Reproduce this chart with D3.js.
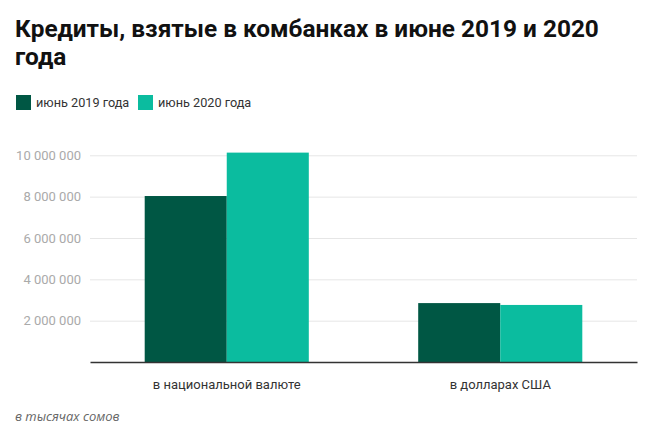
<!DOCTYPE html>
<html>
<head>
<meta charset="utf-8">
<script src="https://cdn.jsdelivr.net/npm/d3@7"></script>
<style>
  body { margin: 0; background: #fff; }
  svg { display: block; font-family: Roboto, "Noto Sans", sans-serif; }
</style>
</head>
<body>
<svg id="chart" width="653" height="431"></svg>
<script>
// data, in thousands of soms
var categories = ["в национальной валюте", "в долларах США"];
var seriesNames = ["июнь 2019 года", "июнь 2020 года"];
var values2019 = [8030000, 2850000];
var values2020 = [10130000, 2760000];
var yTicks = [2000000, 4000000, 6000000, 8000000, 10000000];
var colors = ["#005744", "#0bbc9f"];

var svg = d3.select("#chart");
var margin = {left: 90, right: 16, top: 155.3, bottom: 69};
var width = 653 - margin.left - margin.right,
    height = 431 - margin.top - margin.bottom;

// title
svg.append("text")
    .attr("x", 15).attr("y", 37)
    .style("font-size", "24.4px").style("font-weight", "bold").style("fill", "#111")
    .text("Кредиты, взятые в комбанках в июне 2019 и 2020");
svg.append("text")
    .attr("x", 15).attr("y", 65)
    .style("font-size", "24.4px").style("font-weight", "bold").style("fill", "#111")
    .text("года");

// legend
var legendX = [16, 138];
var legend = svg.selectAll(".legend")
    .data(seriesNames)
    .enter().append("g")
    .attr("class", "legend")
    .attr("transform", function(d, i) { return "translate(" + legendX[i] + ",95)"; });
legend.append("rect")
    .attr("width", 15).attr("height", 15)
    .attr("fill", function(d, i) { return colors[i]; });
legend.append("text")
    .attr("x", 20).attr("y", 12)
    .style("font-size", "12.7px").style("fill", "#333")
    .text(function(d) { return d; });

var g = svg.append("g")
    .attr("transform", "translate(" + margin.left + "," + margin.top + ")");

var x0 = d3.scaleBand()
    .domain(categories)
    .range([0, width])
    .paddingInner(0.4)
    .paddingOuter(0.2);

var x1 = d3.scaleBand()
    .domain(seriesNames)
    .range([0, x0.bandwidth()]);

var y = d3.scaleLinear()
    .domain([0, 10000000])
    .range([height, 0]);

var fmt = function(d) { return d3.format(",")(d).replace(/,/g, " "); };

// grid + y labels
var yAxis = g.append("g")
    .call(d3.axisLeft(y).tickValues(yTicks).tickSize(-width).tickPadding(8).tickFormat(fmt));
yAxis.select(".domain").remove();
yAxis.selectAll(".tick line").attr("stroke", "#e6e6e6");
yAxis.selectAll(".tick text")
    .attr("x", -9)
    .style("font-size", "13px").style("fill", "#aaa")
    .style("font-family", "Roboto, sans-serif");

// bars
var rows = categories.map(function(c, i) {
    return {cat: c, vals: [values2019[i], values2020[i]]};
});
var groups = g.selectAll(".group")
    .data(rows)
    .enter().append("g")
    .attr("transform", function(d) { return "translate(" + x0(d.cat) + ",0)"; });
groups.selectAll("rect")
    .data(function(d) { return d.vals.map(function(v, i) { return {name: seriesNames[i], v: v, i: i}; }); })
    .enter().append("rect")
    .attr("x", function(d) { return x1(d.name); })
    .attr("y", function(d) { return y(d.v); })
    .attr("width", x1.bandwidth())
    .attr("height", function(d) { return height - y(d.v); })
    .attr("fill", function(d) { return colors[d.i]; });

// x axis
var xAxis = g.append("g")
    .attr("transform", "translate(0," + height + ")")
    .call(d3.axisBottom(x0).tickSize(0).tickPadding(18));
xAxis.select(".domain").attr("stroke", "#333").attr("stroke-width", 1.5);
xAxis.selectAll(".tick text")
    .style("font-size", "13px").style("fill", "#333")
    .style("font-family", "Roboto, sans-serif");

// footnote
svg.append("text")
    .attr("x", 15).attr("y", 421)
    .style("font-family", "'Open Sans', sans-serif")
    .style("font-size", "13px").style("font-style", "italic").style("fill", "#666")
    .text("в тысячах сомов");
</script>
</body>
</html>
